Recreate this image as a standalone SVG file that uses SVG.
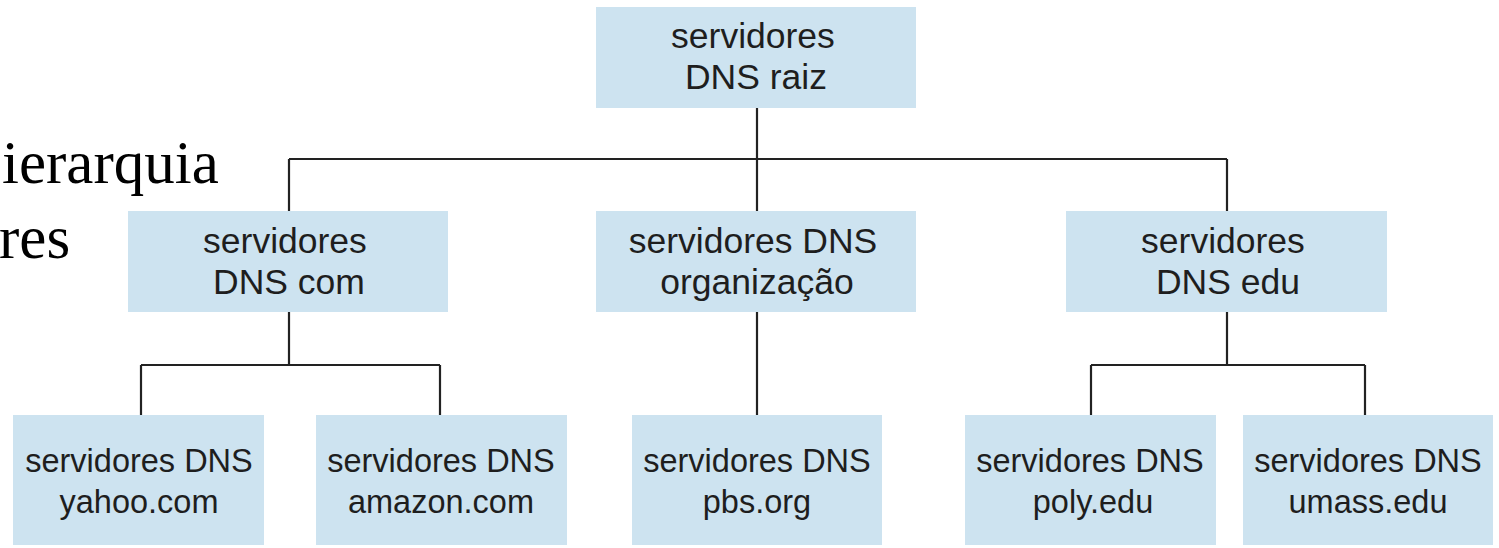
<svg xmlns="http://www.w3.org/2000/svg" width="1499" height="548" viewBox="0 0 1499 548">
<style>
.box{fill:#cde3f0;}
.t{font-family:"Liberation Sans",Arial,sans-serif;font-size:32.5px;fill:#1e1e1e;text-anchor:middle;}
.big{font-size:35.5px;}
.side{font-family:"Liberation Serif","Times New Roman",serif;font-size:61px;fill:#000;}
.c{stroke:#222;stroke-width:2.2;fill:none;}
</style>
<rect width="1499" height="548" fill="#fff"/>
<g id="title">
<text class="side" x="2" y="183">ierarquia</text>
<text class="side" x="-1" y="258">res</text>
</g>
<g id="connectors">
<path class="c" d="M757 107V159M289 159H1227M289 159V212M757 159V212M1227 159V212"/>
<path class="c" d="M289 312V365M141 365H440M141 365V416M440 365V416"/>
<path class="c" d="M757 312V416"/>
<path class="c" d="M1227 312V365M1091 365H1365M1091 365V416M1365 365V416"/>
</g>
<g id="root"><rect class="box" x="596" y="7" width="320" height="101"/><text class="t big" x="753" y="48">servidores</text><text class="t big" x="756" y="89">DNS raiz</text></g>
<g id="com"><rect class="box" x="128" y="211" width="320" height="101"/><text class="t big" x="285" y="253">servidores</text><text class="t big" x="289" y="294">DNS com</text></g>
<g id="org"><rect class="box" x="596" y="211" width="320" height="101"/><text class="t big" x="753" y="253">servidores DNS</text><text class="t big" x="757" y="294">organização</text></g>
<g id="edu"><rect class="box" x="1066" y="211" width="321" height="101"/><text class="t big" x="1223" y="253">servidores</text><text class="t big" x="1228" y="294">DNS edu</text></g>
<g id="yahoo"><rect class="box" x="13" y="415" width="251" height="130"/><text class="t" x="139" y="472">servidores DNS</text><text class="t" x="139" y="513">yahoo.com</text></g>
<g id="amazon"><rect class="box" x="316" y="415" width="251" height="130"/><text class="t" x="441" y="472">servidores DNS</text><text class="t" x="441" y="513">amazon.com</text></g>
<g id="pbs"><rect class="box" x="632" y="415" width="250" height="130"/><text class="t" x="757" y="472">servidores DNS</text><text class="t" x="757" y="513">pbs.org</text></g>
<g id="poly"><rect class="box" x="965" y="415" width="251" height="130"/><text class="t" x="1090" y="472">servidores DNS</text><text class="t" x="1093" y="513">poly.edu</text></g>
<g id="umass"><rect class="box" x="1243" y="415" width="250" height="130"/><text class="t" x="1368" y="472">servidores DNS</text><text class="t" x="1368" y="513">umass.edu</text></g>
</svg>
